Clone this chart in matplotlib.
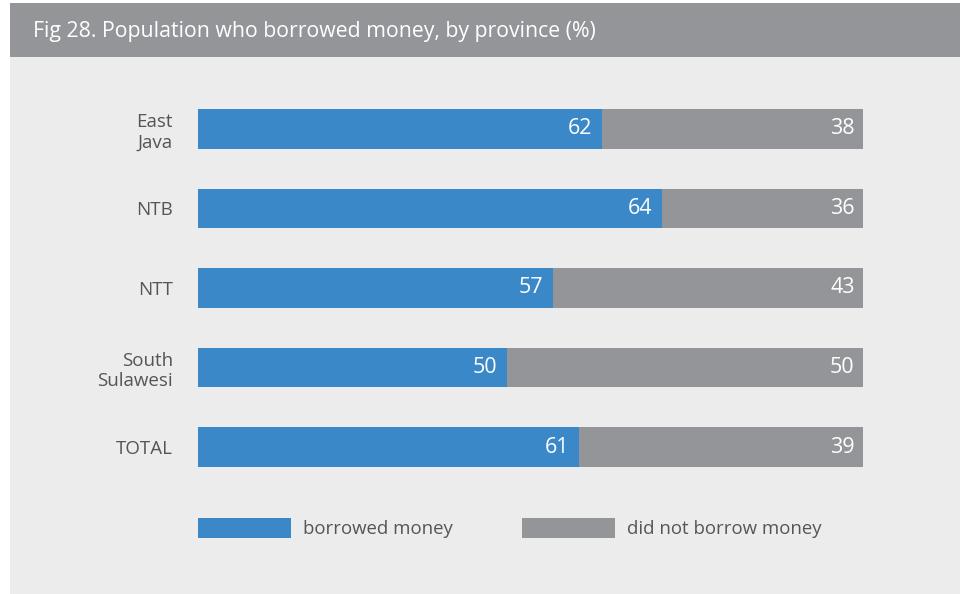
import matplotlib
matplotlib.use("Agg")
import matplotlib.pyplot as plt
from matplotlib.patches import Rectangle, Patch

# data
provinces = ["East\nJava", "NTB", "NTT", "South\nSulawesi", "TOTAL"]
borrowed_label = [62, 64, 57, 50, 61]
not_borrowed_label = [38, 36, 43, 50, 39]
# the source bars are not drawn to the printed values; lengths as measured
borrowed_bar = [60.7, 69.8, 53.4, 46.5, 57.3]
not_borrowed_bar = [100 - v for v in borrowed_bar]
series_names = ["borrowed money", "did not borrow money"]

BLUE = "#3a88c8"
GREY = "#939598"
BG = "#ececec"
TXT = "#555555"

plt.rcParams["font.family"] = ["Open Sans", "DejaVu Sans"]

W, H = 960, 594
fig = plt.figure(figsize=(W / 100, H / 100), dpi=100)
fig.patch.set_facecolor("white")

# panel + header band
fig.patches.append(Rectangle((10 / W, 0), 1, 1 - 3 / H, transform=fig.transFigure,
                             facecolor=BG, edgecolor="none", zorder=-2))
fig.patches.append(Rectangle((10 / W, 1 - 57 / H), 1, 54 / H, transform=fig.transFigure,
                             facecolor=GREY, edgecolor="none", zorder=-1))
fig.text(33 / W, 1 - 31 / H, "Fig 28. Population who borrowed money, by province (%)",
         color="white", fontsize=15.3, va="center", ha="left")

ax = fig.add_axes([198 / W, 1 - 467 / H, 665 / W, 358 / H])
ax.set_zorder(3)
ax.set_facecolor("none")
ypos = list(range(len(provinces)))
bh = 0.503
ax.barh(ypos, borrowed_bar, height=bh, color=BLUE, label=series_names[0])
ax.barh(ypos, not_borrowed_bar, left=borrowed_bar, height=bh, color=GREY,
        label=series_names[1])

for i in ypos:
    ax.annotate(str(borrowed_label[i]), (borrowed_bar[i], i), xytext=(-7, 0),
                textcoords="offset points", ha="right", va="center",
                color="white", fontsize=15.5)
    ax.annotate(str(not_borrowed_label[i]), (100, i), xytext=(-6, 0),
                textcoords="offset points", ha="right", va="center",
                color="white", fontsize=15.5)

ax.set_xlim(0, 100)
ax.set_ylim(len(provinces) - 1 + bh / 2, -bh / 2)
ax.set_yticks(ypos)
ax.set_yticklabels(provinces, color=TXT, fontsize=13.5, linespacing=1.2)
ax.tick_params(axis="y", length=0, pad=18)
ax.set_xticks([])
for s in ax.spines.values():
    s.set_visible(False)

handles = [Patch(facecolor=BLUE, edgecolor="none"), Patch(facecolor=GREY, edgecolor="none")]
leg = fig.legend(handles, series_names, loc="center left",
                 bbox_to_anchor=(198 / W, 1 - 528 / H), ncol=2, frameon=False,
                 fontsize=13.4, handlelength=5.0, handleheight=1.3,
                 handletextpad=0.62, columnspacing=3.75, borderpad=0, borderaxespad=0)
for t in leg.get_texts():
    t.set_color(TXT)

fig.savefig("out.png", dpi=100, facecolor=fig.get_facecolor())
